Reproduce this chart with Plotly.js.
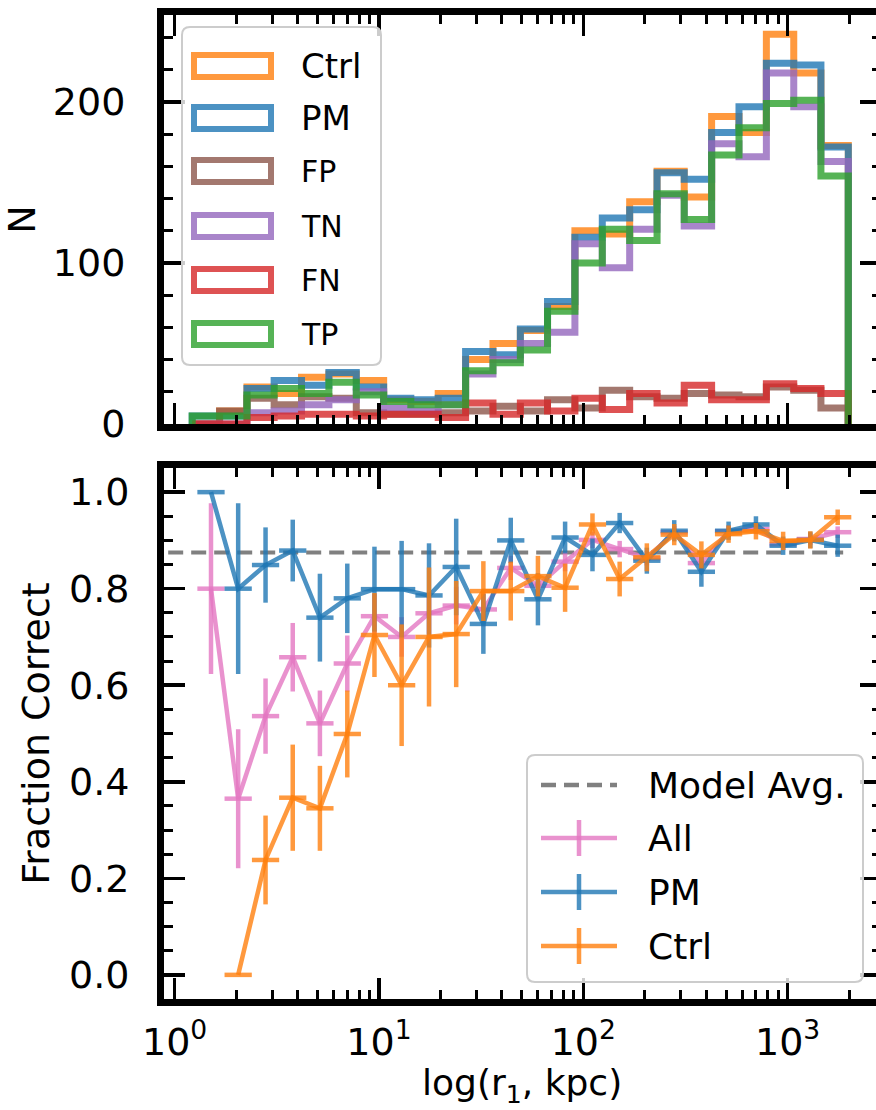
<!DOCTYPE html>
<html><head><meta charset="utf-8">
<script src="https://cdn.plot.ly/plotly-3.0.1.min.js"></script>
<style>html,body{margin:0;padding:0;overflow:hidden;background:#fff}#chart{width:890px;height:1110px}</style>
</head><body><div id="chart"></div>
<script>
// ---------- Top panel: histogram (log10 bin edges, counts) ----------
const binEdgesLog = [0.086,0.220,0.354,0.487,0.621,0.755,0.889,1.023,1.156,1.290,1.424,1.558,1.692,1.825,1.959,2.093,2.227,2.361,2.494,2.628,2.762,2.896,3.030,3.163,3.297];
const histNames = ['Ctrl','PM','FP','TN','FN','TP'];
const countsCtrl = [0,8,23,19,29,31,27,15,14,19,40,50,58,73,120,118,138,157,141,191,181,242,218,173];
const countsPM   = [5,5,22,27,24,32,23,16,15,16,45,43,59,76,116,128,133,156,152,181,197,224,223,172];
const countsFP   = [0,8,16,12,17,16,7,6,6,7,8,11,8,15,10,21,17,16,19,18,17,23,21,10];
const countsTN   = [0,0,7,8,12,15,20,10,8,12,31,40,50,57,112,97,121,142,123,174,166,218,197,163];
const countsFN   = [0,0,4,5,6,6,5,6,6,4,13,6,13,8,16,9,19,13,24,15,15,25,22,19];
const countsTP   = [5,5,18,22,19,26,18,14,12,12,33,38,46,70,100,121,114,143,127,167,184,199,201,154];

// ---------- Bottom panel: fraction correct ----------
const fracXLog = [0.178,0.311,0.445,0.578,0.711,0.845,0.978,1.111,1.245,1.378,1.511,1.645,1.778,1.911,2.045,2.178,2.311,2.445,2.578,2.711,2.845,2.978,3.111,3.245];
const fracAll  = [0.800,0.365,0.536,0.658,0.521,0.645,0.743,0.700,0.749,0.765,0.757,0.843,0.806,0.856,0.901,0.882,0.863,0.917,0.853,0.919,0.924,0.892,0.903,0.917];
const errAll   = [0.177,0.144,0.078,0.071,0.068,0.058,0.046,0.041,0.043,0.039,0.035,0.025,0.020,0.020,0.017,0.017,0.015,0.013,0.015,0.012,0.011,0.012,0.012,0.012];
const fracPM   = [1.000,0.800,0.849,0.879,0.740,0.780,0.799,0.799,0.786,0.845,0.727,0.900,0.778,0.906,0.870,0.936,0.858,0.920,0.835,0.920,0.933,0.889,0.901,0.889];
const errPM    = [0,0.177,0.078,0.064,0.091,0.072,0.088,0.100,0.108,0.100,0.062,0.047,0.054,0.033,0.034,0.021,0.027,0.022,0.031,0.019,0.017,0.019,0.017,0.023];
const fracCtrl = [null,0.000,0.238,0.367,0.345,0.499,0.704,0.600,0.700,0.706,0.795,0.795,0.826,0.802,0.933,0.820,0.865,0.912,0.870,0.913,0.919,0.899,0.901,0.948];
const errCtrl  = [null,0,0.092,0.110,0.088,0.090,0.087,0.126,0.144,0.110,0.062,0.061,0.042,0.050,0.023,0.036,0.029,0.022,0.028,0.018,0.017,0.019,0.018,0.016];
const modelAvg = 0.875;
const modelAvgX = [0.93, 1870];
const binHalfWidthLog = 0.0667;

const C = {
  orange:'rgba(255,127,14,0.8)', blue:'rgba(31,119,180,0.8)', brown:'rgba(140,86,75,0.8)',
  purple:'rgba(148,103,189,0.8)', red:'rgba(214,39,40,0.8)', green:'rgba(44,160,44,0.8)',
  pink:'rgba(227,119,194,0.8)', gray:'rgba(128,128,128,1)'
};
const histColors = [C.orange, C.blue, C.brown, C.purple, C.red, C.green];
const histCounts = [countsCtrl, countsPM, countsFP, countsTN, countsFN, countsTP];

const edgesLin = binEdgesLog.map(v => Math.pow(10, v));
const traces = [];
histCounts.forEach((cnt, i) => {
  const xs = [edgesLin[0]].concat(edgesLin.slice(0, cnt.length)).concat([edgesLin[cnt.length]]);
  const ys = [0].concat(cnt).concat([0]);
  traces.push({x: xs, y: ys, type:'scatter', mode:'lines', line:{shape:'hv', color: histColors[i], width:7},
    name: histNames[i], xaxis:'x', yaxis:'y', showlegend:false, hoverinfo:'skip'});
});

const fx = fracXLog.map(v => Math.pow(10, v));
const xPlus = fx.map(v => v * (Math.pow(10, binHalfWidthLog) - 1));
const xMinus = fx.map(v => v * (1 - Math.pow(10, -binHalfWidthLog)));

traces.push({x: modelAvgX, y: [modelAvg, modelAvg], type:'scatter', mode:'lines',
  line:{color:C.gray, width:4, dash:'15px,8px'}, xaxis:'x2', yaxis:'y2', showlegend:false, name:'Model Avg.'});

function fracTrace(y, e, col, name) {
  return {x: fx, y: y, type:'scatter', mode:'lines', name: name, xaxis:'x2', yaxis:'y2', showlegend:false,
    line:{color: col, width:4.5},
    error_y:{type:'data', array:e, symmetric:true, thickness:4.5, width:0, color: col},
    error_x:{type:'data', array:xPlus, arrayminus:xMinus, symmetric:false, thickness:4.5, width:0, color: col}};
}
traces.push(fracTrace(fracAll, errAll, C.pink, 'All'));
traces.push(fracTrace(fracPM, errPM, C.blue, 'PM'));
traces.push(fracTrace(fracCtrl, errCtrl, C.orange, 'Ctrl'));

// ---------- Layout geometry (pixels) ----------
const W = 890, H = 1110, L = 164, R = 881, T = 15, B = 999;
const px = x => (x - L) / (R - L);
const py = y => (B - y) / (B - T);

const minorLog = [];
[1,10,100,1000].forEach(d => { for (let k = 2; k <= 9; k++) minorLog.push(k * d); });

const FONT = 'DejaVu Sans';
const xCommon = {
  type:'log', range:[-0.052, 3.457], showline:true, linewidth:7, linecolor:'black', mirror:'allticks',
  ticks:'inside', ticklen:21, tickwidth:3.5, tickcolor:'black', showgrid:false, zeroline:false,
  tickmode:'array', tickvals:[1,10,100,1000],
  ticktext:['10<sup>0</sup>','10<sup>1</sup>','10<sup>2</sup>','10<sup>3</sup>'],
  minor:{ticks:'inside', ticklen:9, tickwidth:3, tickcolor:'black', tickmode:'array', tickvals:minorLog, showgrid:false},
  tickfont:{family:FONT, size:38, color:'black'}
};

const layout = {
  width:W, height:H, margin:{l:L, r:W-R, t:T, b:H-B}, paper_bgcolor:'white', plot_bgcolor:'white',
  showlegend:false, font:{family:FONT, color:'black'},
  xaxis: Object.assign({}, xCommon, {anchor:'y', showticklabels:false, matches:'x2'}),
  xaxis2: Object.assign({}, xCommon, {anchor:'y2', ticklabelstandoff:3}),
  yaxis: {domain:[py(424), 1], range:[0, 254], showline:true, linewidth:7, linecolor:'black', mirror:'allticks',
    ticks:'inside', ticklen:21, tickwidth:3.5, tickcolor:'black', showgrid:false, zeroline:false,
    tickmode:'array', tickvals:[0,100,200], ticklabelstandoff:24,
    minor:{ticks:'inside', ticklen:9, tickwidth:3, tickcolor:'black', dtick:20, tick0:0, showgrid:false},
    tickfont:{family:FONT, size:38, color:'black'},
    title:{text:'N', font:{family:FONT, size:38, color:'black'}, standoff:14}},
  yaxis2: {domain:[0, py(468)], range:[-0.05, 1.05], showline:true, linewidth:7, linecolor:'black', mirror:'allticks',
    ticks:'inside', ticklen:21, tickwidth:3.5, tickcolor:'black', showgrid:false, zeroline:false,
    tickmode:'array', tickvals:[0,0.2,0.4,0.6,0.8,1.0], ticktext:['0.0','0.2','0.4','0.6','0.8','1.0'], ticklabelstandoff:20,
    minor:{ticks:'inside', ticklen:9, tickwidth:3, tickcolor:'black', dtick:0.05, tick0:0, showgrid:false},
    tickfont:{family:FONT, size:38, color:'black'},
    title:{text:'Fraction Correct', font:{family:FONT, size:38, color:'black'}, standoff:10}},
  shapes:[], annotations:[]
};

// x-axis title as an annotation (placed below the tick labels)
layout.annotations.push({xref:'paper', yref:'paper', x:px(522), y:py(1085), xanchor:'center', yanchor:'middle',
  text:'log(r<sub>1</sub>, kpc)', showarrow:false, font:{family:FONT, size:36, color:'black'}});

function roundedBox(x0, y0, x1, y1, r) {
  const P = (x, y) => px(x) + ',' + py(y);
  return 'M' + P(x0 + r, y0) + ' L' + P(x1 - r, y0) + ' Q' + P(x1, y0) + ' ' + P(x1, y0 + r) +
    ' L' + P(x1, y1 - r) + ' Q' + P(x1, y1) + ' ' + P(x1 - r, y1) +
    ' L' + P(x0 + r, y1) + ' Q' + P(x0, y1) + ' ' + P(x0, y1 - r) +
    ' L' + P(x0, y0 + r) + ' Q' + P(x0, y0) + ' ' + P(x0 + r, y0) + ' Z';
}

// ---- Top legend ----
layout.shapes.push({type:'path', xref:'paper', yref:'paper', path: roundedBox(182, 27, 381, 365, 8),
  line:{color:'rgba(204,204,204,1)', width:2}, fillcolor:'rgba(255,255,255,0.8)', layer:'above'});
const topLegY = [66, 118, 171, 226, 280, 334];
const topLegSize = [34, 34, 30, 30, 30, 30];
histNames.forEach((nm, i) => {
  const yc = topLegY[i];
  layout.shapes.push({type:'rect', xref:'paper', yref:'paper', x0:px(194), x1:px(271), y0:py(yc + 11), y1:py(yc - 11),
    line:{color: histColors[i], width:6}, fillcolor:'rgba(0,0,0,0)', layer:'above'});
  layout.annotations.push({xref:'paper', yref:'paper', x:px(299), y:py(yc), xanchor:'left', yanchor:'middle',
    text:nm, showarrow:false, font:{family:FONT, size:topLegSize[i], color:'black'}});
});

// ---- Bottom legend ----
layout.shapes.push({type:'path', xref:'paper', yref:'paper', path: roundedBox(527, 755, 863, 982, 8),
  line:{color:'rgba(204,204,204,1)', width:2}, fillcolor:'rgba(255,255,255,0.8)', layer:'above'});
const botLeg = [
  {name:'Model Avg.', y:785, col:C.gray, dash:true},
  {name:'All', y:838, col:C.pink},
  {name:'PM', y:892, col:C.blue},
  {name:'Ctrl', y:946, col:C.orange}
];
botLeg.forEach(it => {
  layout.shapes.push({type:'line', xref:'paper', yref:'paper', x0:px(541), x1:px(617), y0:py(it.y), y1:py(it.y),
    line:{color:it.col, width:4.5, dash: it.dash ? '15px,8px' : 'solid'}, layer:'above'});
  if (!it.dash) {
    layout.shapes.push({type:'line', xref:'paper', yref:'paper', x0:px(579), x1:px(579), y0:py(it.y - 18), y1:py(it.y + 18),
      line:{color:it.col, width:4.5}, layer:'above'});
  }
  layout.annotations.push({xref:'paper', yref:'paper', x:px(646), y:py(it.y), xanchor:'left', yanchor:'middle',
    text:it.name, showarrow:false, font:{family:FONT, size:36, color:'black'}});
});

Plotly.newPlot('chart', traces, layout, {staticPlot:true, displayModeBar:false});
</script></body></html>
